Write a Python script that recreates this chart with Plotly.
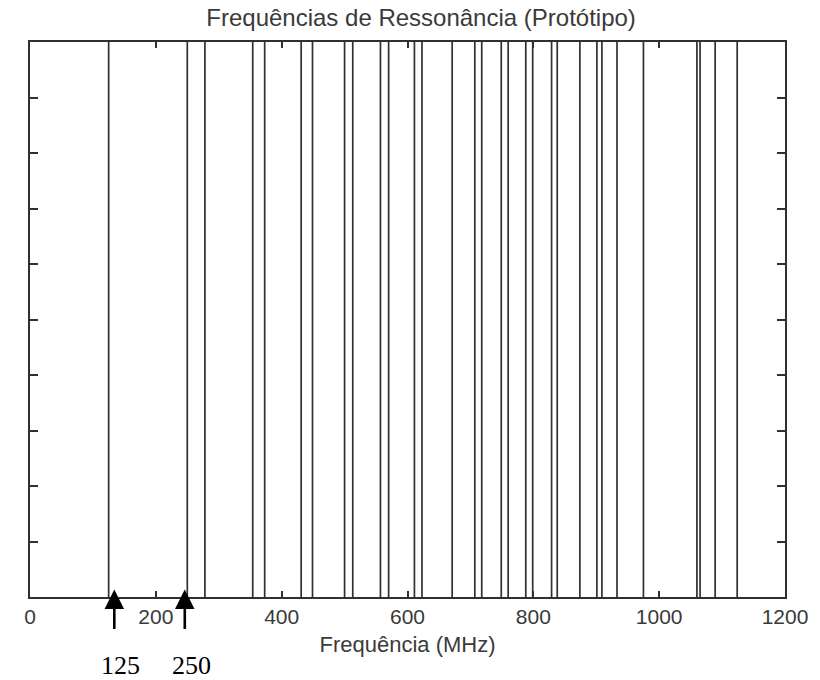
import plotly.graph_objects as go

# Resonance frequencies (MHz)
freqs = [125, 250, 278, 354, 373, 431, 449, 500, 513, 557, 570, 611, 623,
         671, 707, 718, 749, 760, 788, 799, 829, 838, 874, 901, 909, 933,
         975, 1060, 1065, 1089, 1124]
line_bottom = 0.0
line_top = 1.0

x_ticks = [0, 200, 400, 600, 800, 1000, 1200]
y_ticks = [0.0, 0.1, 0.2, 0.3, 0.4, 0.5, 0.6, 0.7, 0.8, 0.9, 1.0]

arrow_x = [134, 246]
arrow_labels = ["125", "250"]
arrow_label_x = [144, 256]

xs, ys = [], []
for f in freqs:
    xs += [f, f, None]
    ys += [line_bottom, line_top, None]

fig = go.Figure()
fig.add_trace(go.Scatter(x=xs, y=ys, mode="lines",
                         line=dict(color="#303030", width=1.7),
                         hoverinfo="skip", showlegend=False))

axis_common = dict(showgrid=False, zeroline=False, showline=True,
                   linecolor="#303030", linewidth=1.5, mirror="ticks",
                   ticks="inside", tickcolor="#303030", tickwidth=1.5)

fig.update_layout(
    width=820, height=680,
    margin=dict(l=30, r=28, t=42, b=83),
    paper_bgcolor="white", plot_bgcolor="white",
    font=dict(family="Liberation Sans, Arial, sans-serif", size=22, color="#3a3a3a"),
    title=dict(text="Frequências de Ressonância (Protótipo)",
               x=0.518, xref="paper", xanchor="center",
               y=1 - 18 / 680, yref="container", yanchor="middle",
               font=dict(size=24, color="#3a3a3a")),
    xaxis=dict(range=[0, 1200], tickvals=x_ticks, ticklen=6,
               title=dict(text="Frequência (MHz)", standoff=10,
                          font=dict(size=22)),
               tickfont=dict(size=21), **axis_common),
    yaxis=dict(range=[0, 1], tickvals=y_ticks, ticklen=8,
               showticklabels=False, **axis_common),
)

for ax_x in arrow_x:
    fig.add_annotation(x=ax_x, y=0.0135, xref="x", yref="paper",
                       text="", showarrow=True, ax=0, ay=41,
                       arrowhead=2, arrowsize=1.5, arrowwidth=2.6,
                       arrowcolor="black")

for lx, lab in zip(arrow_label_x, arrow_labels):
    fig.add_annotation(x=lx, y=-0.124, xref="x", yref="paper",
                       text=lab, showarrow=False, xanchor="center", yanchor="middle",
                       font=dict(family="Liberation Serif, Times New Roman, serif",
                                 size=26, color="black"))

fig.write_html("out.html")
